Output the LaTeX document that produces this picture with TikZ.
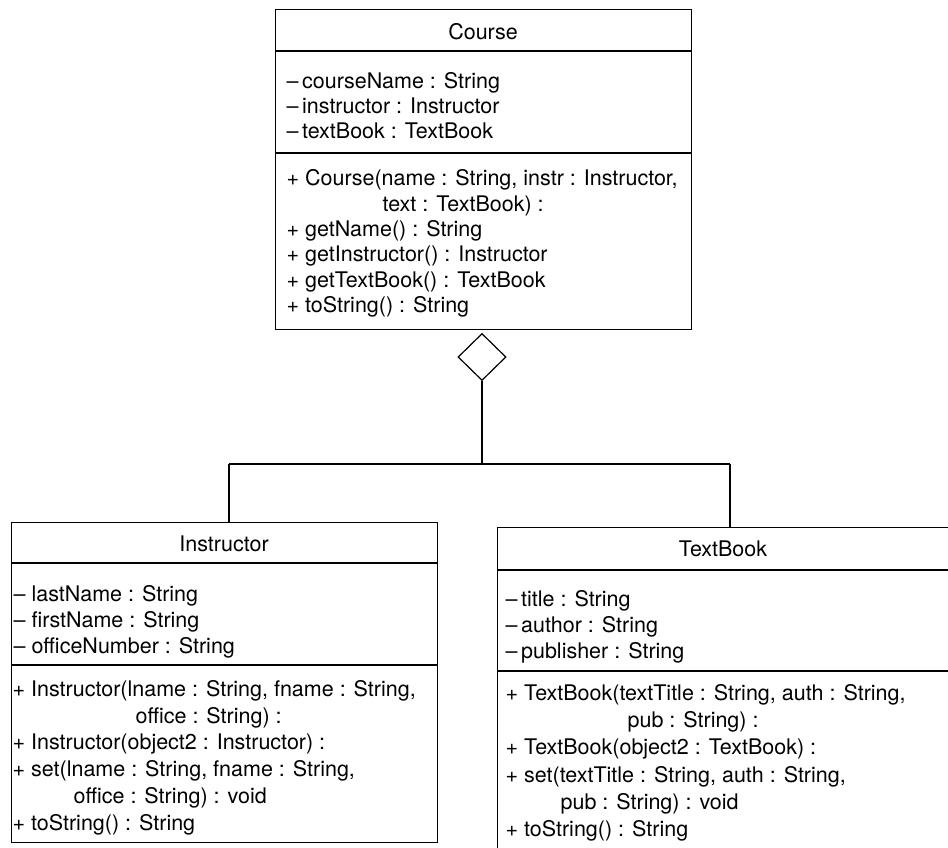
\documentclass[tikz,border=0pt]{standalone}
\usepackage{fontspec}
\setmainfont{TeX Gyre Heros}
\usetikzlibrary{shapes.geometric}
\begin{document}
\begin{tikzpicture}[x=1pt,y=-1pt,line width=1.2pt,
  classbox/.style={draw,line width=1.2pt,inner sep=0,anchor=north west},
  ttl/.style={anchor=base,inner sep=0,font=\fontsize{21.5}{25}\selectfont},
  txt/.style={anchor=base west,inner sep=0,align=left},
  aggdiamond/.style={diamond,draw,line width=1.2pt,inner sep=0,minimum width=48pt,minimum height=47pt,fill=white}]
\clip (0,0) rectangle (948,847);
\fill[white] (0,0) rectangle (948,847);
% Course
\node[classbox,minimum width=416pt,minimum height=320pt] (course) at (275,9) {};
\draw (course.west |- 0,51) -- (course.east |- 0,51);
\draw (course.west |- 0,153) -- (course.east |- 0,153);
\node[ttl] (courseT) at (483,39.3) {Course};
\node[txt,font=\fontsize{21.5}{25}\selectfont] (courseA) at (286,138.3) {–\,courseName : String\\–\,instructor : Instructor\\–\,textBook : TextBook};
\node[txt,font=\fontsize{21.5}{25.4}\selectfont] (courseM) at (286,312.7) {+ Course(name : String, instr : Instructor,\\\hspace*{96pt}text : TextBook) :\\+ getName() : String\\+ getInstructor() : Instructor\\+ getTextBook() : TextBook\\+ toString() : String};
% Instructor
\node[classbox,minimum width=426pt,minimum height=320pt] (inst) at (11,522) {};
\draw (inst.west |- 0,563) -- (inst.east |- 0,563);
\draw (inst.west |- 0,665) -- (inst.east |- 0,665);
\node[ttl] (instT) at (224,551.7) {Instructor};
\node[txt,font=\fontsize{21.5}{25.8}\selectfont] (instA) at (13,653.3) {– lastName : String\\– firstName : String\\– officeNumber : String};
\node[txt,font=\fontsize{21.5}{26.7}\selectfont] (instM) at (12,830) {+ Instructor(lname : String, fname : String,\\\hspace*{123pt}office : String) :\\+ Instructor(object2 : Instructor) :\\+ set(lname : String, fname : String,\\\hspace*{61pt}office : String) : void\\+ toString() : String};
% TextBook
\node[classbox,minimum width=452pt,minimum height=340pt] (tb) at (497,527) {};
\draw (tb.west |- 0,570) -- (tb.east |- 0,570);
\draw (tb.west |- 0,671) -- (tb.east |- 0,671);
\node[ttl] (tbT) at (723,556.7) {TextBook};
\node[txt,font=\fontsize{21.5}{25.8}\selectfont] (tbA) at (505,658.3) {–\,title : String\\–\,author : String\\–\,publisher : String};
\node[txt,font=\fontsize{21.5}{27.3}\selectfont] (tbM) at (505,836.7) {+ TextBook(textTitle : String, auth : String,\\\hspace*{122pt}pub : String) :\\+ TextBook(object2 : TextBook) :\\+ set(textTitle : String, auth : String,\\\hspace*{55pt}pub : String) : void\\+ toString() : String};
% Aggregation
\node[aggdiamond] (agg) at (482,357) {};
\coordinate (jl) at (229,464);
\coordinate (jr) at (730,464);
\draw (agg.south) -- (agg.south |- jl);
\draw (jl) -- (jr);
\draw (jl) -- (jl |- inst.north);
\draw (jr) -- (jr |- tb.north);
\end{tikzpicture}
\end{document}
